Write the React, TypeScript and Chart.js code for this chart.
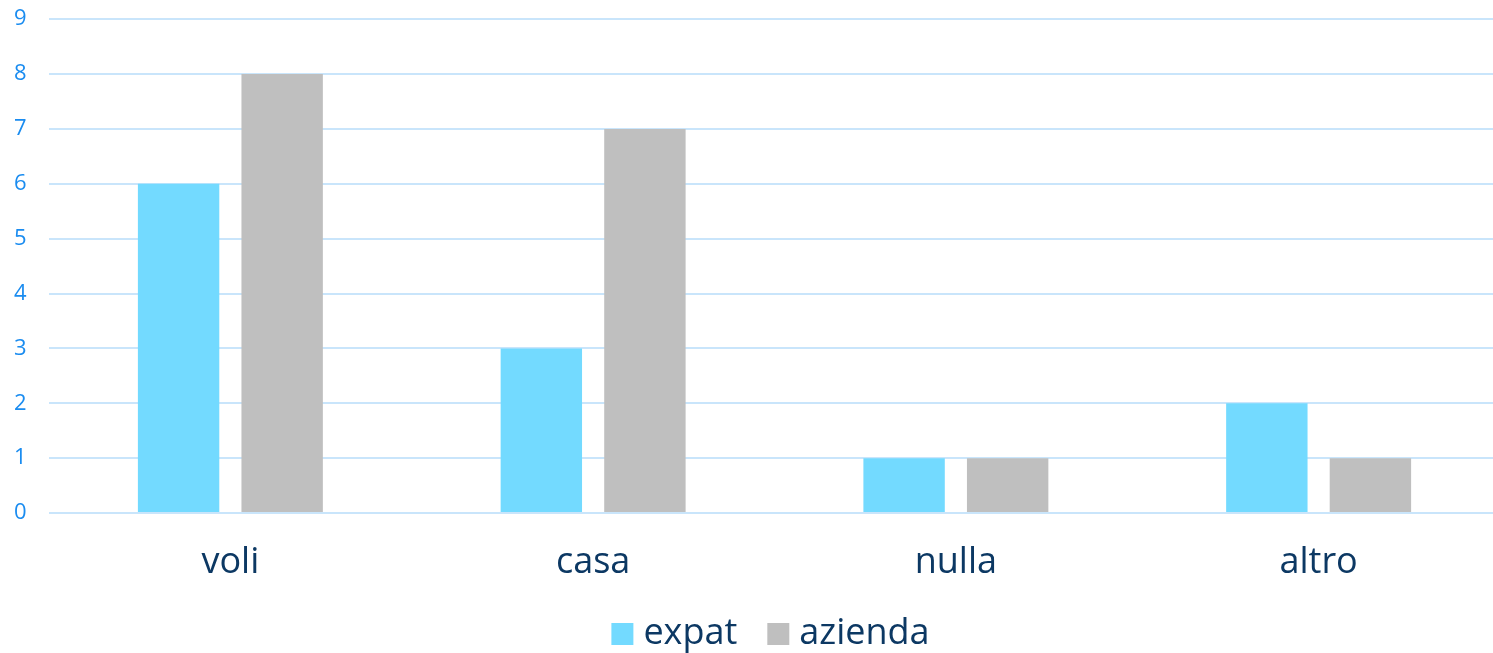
import React, { useEffect, useRef } from "react";
import { Chart, registerables } from "chart.js";

Chart.register(...registerables);

const categories = ["voli", "casa", "nulla", "altro"];
const expatValues = [6, 3, 1, 2];
const aziendaValues = [8, 7, 1, 1];
const yTicks = [0, 1, 2, 3, 4, 5, 6, 7, 8, 9];

export default function App() {
  const ref = useRef<HTMLCanvasElement | null>(null);
  useEffect(() => {
    document.body.style.margin = "0";
    const ctx = ref.current!;
    const chart = new Chart(ctx, {
      type: "bar",
      data: {
        labels: categories,
        datasets: [
          {
            label: "expat",
            data: expatValues,
            backgroundColor: "#73daff",
            categoryPercentage: 0.571,
            barPercentage: 0.786,
          },
          {
            label: "azienda",
            data: aziendaValues,
            backgroundColor: "#bfbfbf",
            categoryPercentage: 0.571,
            barPercentage: 0.786,
          },
        ],
      },
      options: {
        animation: false,
        responsive: false,
        layout: { padding: { left: 14, right: 0, top: 0, bottom: 0 } },
        plugins: {
          tooltip: { enabled: false },
          legend: {
            position: "bottom",
            fullSize: false,
            labels: {
              usePointStyle: true,
              pointStyle: "rect",
              boxWidth: 6,
              boxHeight: 22,
              padding: 38,
              color: "#0c3863",
              font: { family: "Open Sans", size: 36 },
            },
          },
        },
        scales: {
          x: {
            grid: { display: false, drawTicks: false },
            border: { display: false },
            afterFit: (axis: any) => {
              axis.height = 65;
            },
            ticks: {
              color: "#0c3863",
              font: { family: "Open Sans", size: 36 },
              padding: 28,
            },
          },
          y: {
            min: 0,
            max: 9,
            afterBuildTicks: (axis: any) => {
              axis.ticks = yTicks.map((v) => ({ value: v }));
            },
            afterFit: (axis: any) => {
              axis.width = 35;
            },
            grid: { color: "#c9e5fb", lineWidth: 2, drawTicks: false },
            border: { display: false },
            ticks: {
              color: "#1a8cf0",
              font: { family: "Open Sans", size: 22 },
              padding: 6,
              crossAlign: "far",
            },
          },
        },
      },
    });
    return () => chart.destroy();
  }, []);
  return (
    <div
      style={{
        position: "fixed",
        left: 0,
        top: 0,
        width: 1493,
        height: 653,
        overflow: "hidden",
      }}
    >
      <canvas ref={ref} width={1500} height={662} style={{ display: "block" }} />
    </div>
  );
}
